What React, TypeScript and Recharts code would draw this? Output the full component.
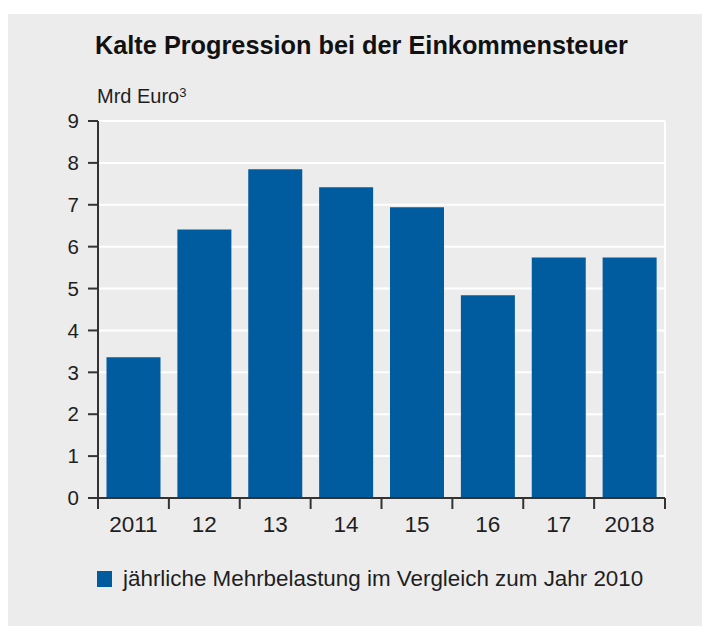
import React from 'react';
import { BarChart, Bar, XAxis, YAxis, CartesianGrid, Legend } from 'recharts';

const title = 'Kalte Progression bei der Einkommensteuer';
const unitLabel = 'Mrd Euro';
const unitSup = '3';
const seriesName = 'jährliche Mehrbelastung im Vergleich zum Jahr 2010';
const years = ['2011', '12', '13', '14', '15', '16', '17', '2018'];
const values = [3.36, 6.41, 7.85, 7.42, 6.94, 4.84, 5.74, 5.74];
const yTicks = [0, 1, 2, 3, 4, 5, 6, 7, 8, 9];

const data = years.map((y, i) => ({ year: y, value: values[i] }));

const FONT = '"Liberation Sans", Arial, sans-serif';
const BLUE = '#005c9f';
const AXIS = '#333333';
const TEXT = '#1e1e1e';
const BG = '#ececec';

const W = 702;
const H = 618;
const X_TICK_SIZE = 10;
const X_TICK_MARGIN = 8;
const EDGE_TICK = 11;

const XTick = (props: any) => {
  const { x, y, payload, index, visibleTicksCount } = props;
  const half = payload && typeof payload.offset === 'number' ? payload.offset : 0;
  const axisY = y - X_TICK_SIZE - X_TICK_MARGIN;
  const isLast = index === (visibleTicksCount ?? years.length) - 1;
  return (
    <g>
      <line x1={x - half} x2={x - half} y1={axisY} y2={axisY + EDGE_TICK} stroke={AXIS} strokeWidth={2} />
      {isLast && (
        <line x1={x + half} x2={x + half} y1={axisY} y2={axisY + EDGE_TICK} stroke={AXIS} strokeWidth={2} />
      )}
      <text x={x} y={y} dy="0.71em" textAnchor="middle" fill={TEXT} fontSize={22.5} fontFamily={FONT}>
        {payload.value}
      </text>
    </g>
  );
};

const LegendContent = (props: any) => {
  const p = (props.payload || [])[0];
  if (!p) return null;
  return (
    <div style={{ display: 'flex', alignItems: 'center', paddingLeft: 89, fontFamily: FONT }}>
      <span style={{ display: 'inline-block', width: 15, height: 16, background: p.color }} />
      <span style={{ marginLeft: 11, fontSize: 22.4, color: TEXT, lineHeight: '30px' }}>{p.value}</span>
    </div>
  );
};

export default function App() {
  return (
    <div style={{ position: 'relative', top: 6, width: W, height: H, background: BG, fontFamily: FONT }}>
      <div style={{ position: 'absolute', left: 87, top: 16, fontSize: 25.3, fontWeight: 'bold', color: '#111', lineHeight: '30px', whiteSpace: 'nowrap', zIndex: 2 }}>
        {title}
      </div>
      <div style={{ position: 'absolute', left: 89, top: 70, fontSize: 20, color: TEXT, lineHeight: '24px', whiteSpace: 'nowrap', zIndex: 2 }}>
        {unitLabel}
        <sup style={{ fontSize: 13, verticalAlign: 'top', position: 'relative', top: -3 }}>{unitSup}</sup>
      </div>
      <BarChart
        width={W}
        height={H}
        data={data}
        margin={{ top: 107, right: 45, bottom: 133, left: 30 }}
        barCategoryGap="12%"
      >
        <CartesianGrid
          stroke="#ffffff"
          strokeWidth={2}
          verticalCoordinatesGenerator={({ offset }: any) => [offset.left + offset.width]}
        />
        <XAxis
          dataKey="year"
          interval={0}
          height={1}
          tickLine={false}
          tickSize={X_TICK_SIZE}
          tickMargin={X_TICK_MARGIN}
          axisLine={{ stroke: AXIS, strokeWidth: 2 }}
          tick={XTick}
        />
        <YAxis
          type="number"
          domain={[0, 9]}
          ticks={yTicks}
          interval={0}
          width={60}
          tickSize={10}
          tickMargin={9}
          axisLine={{ stroke: AXIS, strokeWidth: 2 }}
          tickLine={{ stroke: AXIS, strokeWidth: 2 }}
          tick={{ fill: TEXT, fontSize: 20.5, fontFamily: FONT }}
        />
        <Bar dataKey="value" name={seriesName} fill={BLUE} isAnimationActive={false} />
        <Legend
          layout="vertical"
          align="center"
          verticalAlign="middle"
          wrapperStyle={{ top: 550, left: 0, width: W }}
          content={LegendContent}
        />
      </BarChart>
    </div>
  );
}
